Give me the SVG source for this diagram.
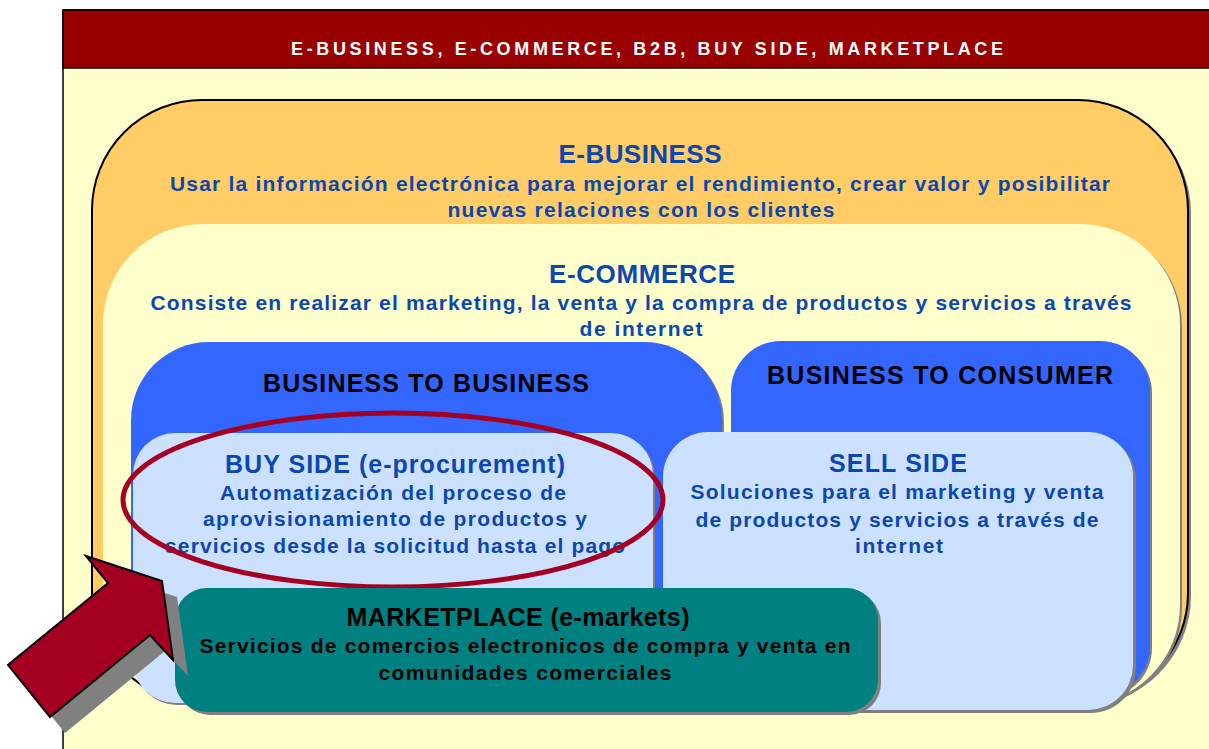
<svg xmlns="http://www.w3.org/2000/svg" width="1209" height="749" viewBox="0 0 1209 749">
<style>
.t{font-family:"Liberation Sans",Arial,sans-serif;font-weight:bold;text-anchor:middle}
.blue{fill:#0B47B0}
.blk{fill:#000}
.h1{font-size:26px}
.h2{font-size:25px}
.p{font-size:21px}
.shadow{fill:#808080}
.lb{fill:#CCE0FF}
.bb{fill:#3366FF}
</style>
<rect x="0" y="0" width="1209" height="749" fill="#fff"/>
<g id="frame">
<rect x="63" y="10" width="1170" height="760" fill="#FFFFCC" stroke="#000" stroke-width="1.5"/>
<rect x="63" y="10" width="1170" height="58" fill="#990000" stroke="#000" stroke-width="1.5"/>
<text class="t" x="647" y="55" font-size="18" fill="#fff" textLength="712" lengthAdjust="spacing">E-BUSINESS, E-COMMERCE, B2B, BUY SIDE, MARKETPLACE</text>
</g>
<g id="e-business">
<rect class="shadow" x="95" y="103" width="1096" height="603" rx="110" ry="110"/>
<rect x="92" y="100" width="1096" height="603" rx="110" ry="110" fill="#FFCC66" stroke="#000" stroke-width="2"/>
</g>
<g id="e-commerce">
<rect class="shadow" x="105" y="226" width="1077" height="481" rx="100" ry="100"/>
<rect x="103" y="224" width="1077" height="481" rx="100" ry="100" fill="#FFFFCC"/>
</g>
<g id="b2b">
<rect class="shadow" x="133" y="344" width="591" height="358" rx="78" ry="78"/>
<rect class="bb" x="131" y="342" width="591" height="358" rx="78" ry="78"/>
</g>
<g id="b2c">
<rect class="shadow" x="733" y="343" width="419" height="355" rx="50" ry="50"/>
<rect class="bb" x="731" y="341" width="419" height="355" rx="50" ry="50"/>
</g>
<g id="buy-side">
<rect class="shadow" x="135" y="435" width="520" height="270" rx="42" ry="42"/>
<rect class="lb" x="133" y="433" width="520" height="270" rx="42" ry="42"/>
</g>
<g id="sell-side">
<rect class="shadow" x="666" y="435" width="470" height="278" rx="45" ry="45"/>
<rect class="lb" x="663" y="432" width="470" height="278" rx="45" ry="45"/>
</g>
<g id="labels">
<text class="t blue h1" x="640" y="163" textLength="163" lengthAdjust="spacing">E-BUSINESS</text>
<text class="t blue p" x="640" y="191" textLength="940" lengthAdjust="spacing">Usar la información electrónica para mejorar el rendimiento, crear valor y posibilitar</text>
<text class="t blue p" x="641" y="217" textLength="387" lengthAdjust="spacing">nuevas relaciones con los clientes</text>
<text class="t blue h1" x="642" y="283" textLength="186" lengthAdjust="spacing">E-COMMERCE</text>
<text class="t blue p" x="641" y="310" textLength="981" lengthAdjust="spacing">Consiste en realizar el marketing, la venta y la compra de productos y servicios a través</text>
<text class="t blue p" x="641" y="336" textLength="123" lengthAdjust="spacing">de internet</text>
<text class="t blk h2" x="426" y="392" textLength="326" lengthAdjust="spacing">BUSINESS TO BUSINESS</text>
<text class="t blk h2" x="940" y="384" textLength="346" lengthAdjust="spacing">BUSINESS TO CONSUMER</text>
<text class="t blue h2" x="395" y="473" textLength="340" lengthAdjust="spacing">BUY SIDE (e-procurement)</text>
<text class="t blue p" x="393" y="500" textLength="346" lengthAdjust="spacing">Automatización del proceso de</text>
<text class="t blue p" x="395" y="526" textLength="384" lengthAdjust="spacing">aprovisionamiento de productos y</text>
<text class="t blue p" x="395" y="553" textLength="460" lengthAdjust="spacing">servicios desde la solicitud hasta el pago</text>
<text class="t blue h2" x="898" y="472" textLength="138" lengthAdjust="spacing">SELL SIDE</text>
<text class="t blue p" x="897" y="499" textLength="413" lengthAdjust="spacing">Soluciones para el marketing y venta</text>
<text class="t blue p" x="897" y="527" textLength="403" lengthAdjust="spacing">de productos y servicios a través de</text>
<text class="t blue p" x="899" y="553" textLength="88" lengthAdjust="spacing">internet</text>
</g>
<g id="highlight">
<ellipse cx="393" cy="500" rx="270" ry="87" fill="none" stroke="#A50021" stroke-width="5"/>
</g>
<g id="marketplace">
<rect class="shadow" x="178" y="591" width="703" height="124" rx="32" ry="32"/>
<rect x="175" y="588" width="703" height="124" rx="32" ry="32" fill="#008080"/>
<text class="t blk h2" x="518" y="626" textLength="343" lengthAdjust="spacing">MARKETPLACE (e-markets)</text>
<text class="t blk p" x="525" y="653" textLength="651" lengthAdjust="spacing">Servicios de comercios electronicos de compra y venta en</text>
<text class="t blk p" x="525" y="680" textLength="293" lengthAdjust="spacing">comunidades comerciales</text>
</g>
<g id="pointer-arrow">
<polygon class="shadow" points="101,572 177,597 188,676 165,651 65,733 23,681 123,599"/>
<polygon points="86,556 162,581 173,660 150,635 50,717 8,665 108,583" fill="#A50021" stroke="#000" stroke-width="2" stroke-linejoin="miter"/>
</g>
</svg>
